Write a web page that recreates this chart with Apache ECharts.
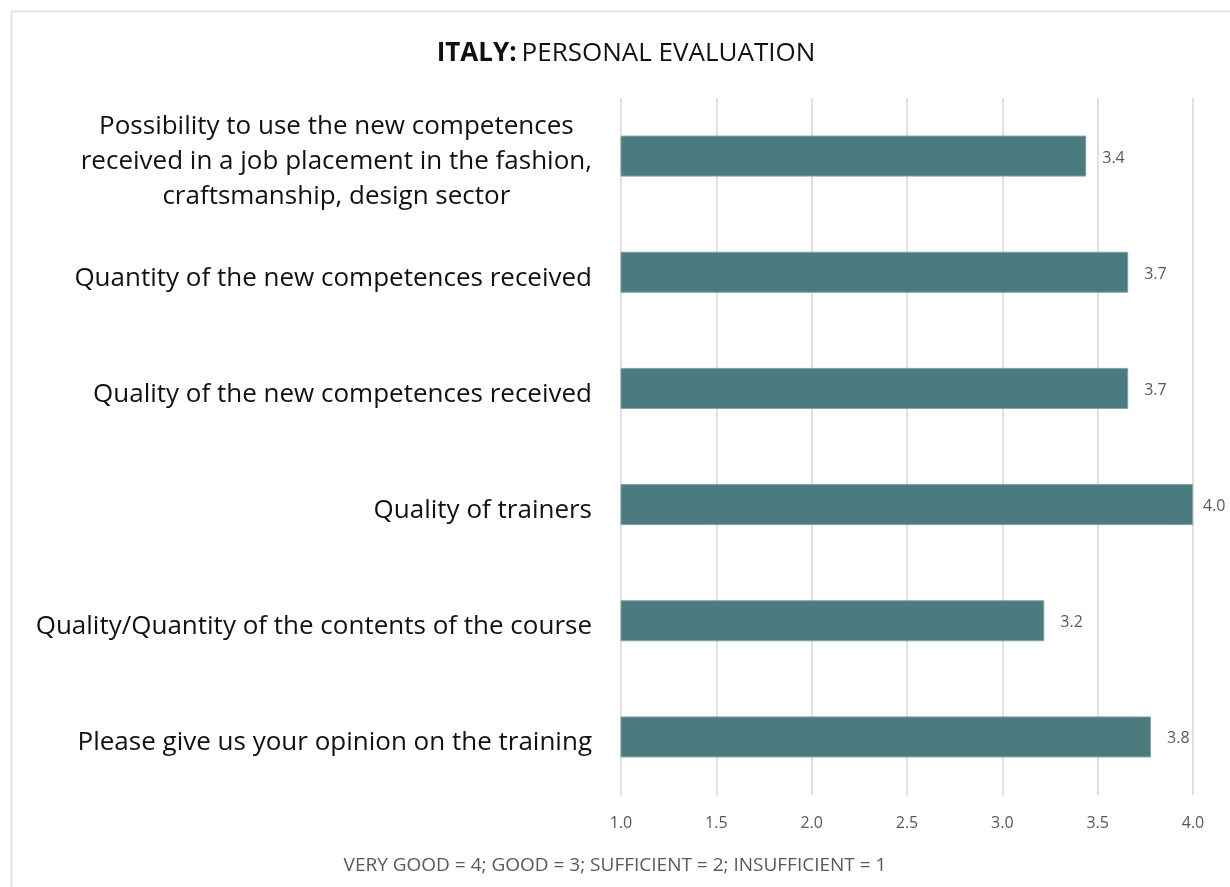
<!DOCTYPE html>
<html>
<head>
<meta charset="utf-8">
<script src="https://cdn.jsdelivr.net/npm/echarts@6/dist/echarts.min.js"></script>
<style>
  html, body { margin: 0; padding: 0; background: #fff; }
  #chart { width: 1230px; height: 887px; }
</style>
</head>
<body>
<div id="chart"></div>
<script>
// Survey items, listed bottom to top as the category axis draws them
const categories = [
  'Please give us your opinion on the training',
  'Quality/Quantity of the contents of the course',
  'Quality of trainers',
  'Quality of the new competences received',
  'Quantity of the new competences received',
  'Possibility to use the new competences\nreceived in a job placement in the fashion,\ncraftsmanship, design sector'
];
// Average scores (1 = insufficient … 4 = very good)
const scores = [3.78, 3.22, 4.0, 3.66, 3.66, 3.44];
const axisMin = 1.0;
const axisMax = 4.0;
const axisStep = 0.5;
const footnote = 'VERY GOOD = 4; GOOD = 3; SUFFICIENT = 2; INSUFFICIENT = 1';

const font = '"Open Sans", "Noto Sans", sans-serif';
const chart = echarts.init(document.getElementById('chart'), null, { renderer: 'canvas' });

// Bars that reach the axis end keep their value label tighter so it stays on the canvas
const barData = scores.map(v => (v >= axisMax ? { value: v, label: { distance: 10 } } : v));

chart.setOption({
  backgroundColor: '#ffffff',
  animation: false,
  title: {
    text: '{b|ITALY:} {n|PERSONAL EVALUATION}',
    left: 621,
    top: 36,
    textAlign: 'center',
    textStyle: {
      rich: {
        b: { fontFamily: font, fontSize: 26, fontWeight: 'bold', color: '#111' },
        n: { fontFamily: font, fontSize: 26, fontWeight: 'normal', color: '#111' }
      }
    }
  },
  graphic: [
    {
      type: 'rect',
      shape: { x: 11.5, y: 11.5, width: 1240, height: 900 },
      style: { fill: 'none', stroke: '#e3e3e3', lineWidth: 2 },
      silent: true
    },
    {
      type: 'text',
      left: 'center',
      top: 856,
      style: {
        text: footnote,
        font: '19px ' + font,
        fill: '#595959',
        x: -6
      }
    }
  ],
  grid: { left: 621, right: 37, top: 98, bottom: 92, containLabel: false },
  xAxis: {
    type: 'value',
    min: axisMin,
    max: axisMax,
    interval: axisStep,
    axisLine: { show: false },
    axisTick: { show: false },
    splitLine: { lineStyle: { color: '#e0e0e0', width: 2 } },
    axisLabel: {
      margin: 20,
      fontFamily: font,
      fontSize: 16,
      color: '#595959',
      formatter: v => v.toFixed(1)
    }
  },
  yAxis: {
    type: 'category',
    data: categories,
    axisLine: { show: false },
    axisTick: { show: false },
    axisLabel: {
      margin: 29,
      align: 'right',
      padding: [12, 0, 0, 0],
      formatter: v => '{c|' + v.split('\n').join('}\n{c|') + '}',
      rich: {
        c: { fontFamily: font, fontSize: 26, color: '#111', align: 'center', lineHeight: 35 }
      }
    }
  },
  series: [{
    type: 'bar',
    data: barData,
    barWidth: 41,
    itemStyle: { color: '#4c7b7f', borderColor: '#7fa3a6', borderWidth: 1 },
    label: {
      show: true,
      position: 'right',
      distance: 16,
      offset: [0, 2],
      fontFamily: font,
      fontSize: 16,
      color: '#595959',
      formatter: p => p.value.toFixed(1)
    }
  }]
});
</script>
</body>
</html>
